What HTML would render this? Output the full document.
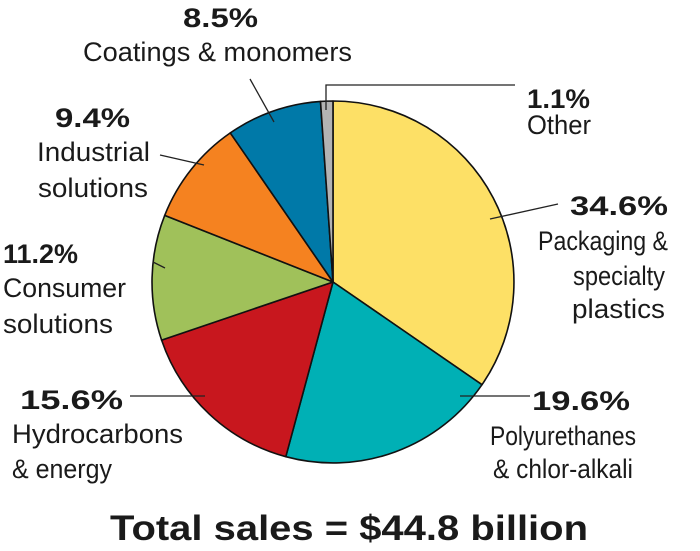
<!DOCTYPE html>
<html><head><style>
html,body{margin:0;padding:0;background:#fff;}
svg{display:block;}
text{font-family:"Liberation Sans",sans-serif;fill:#1a1a1a;}
.b{font-weight:bold;font-size:27px;}
.r{font-size:27px;}
</style></head><body>
<svg width="700" height="551" viewBox="0 0 700 551">
<g stroke="#111" stroke-width="1.6" stroke-linejoin="round">
<path d="M333,282 L333,101 A181,181 0 0 1 482,384.7 Z" fill="#fde066"/>
<path d="M333,282 L482,384.7 A181,181 0 0 1 285.8,456.7 Z" fill="#00b0b5"/>
<path d="M333,282 L285.8,456.7 A181,181 0 0 1 161.6,340.1 Z" fill="#c8171e"/>
<path d="M333,282 L161.6,340.1 A181,181 0 0 1 164.7,215.4 Z" fill="#a0c15a"/>
<path d="M333,282 L164.7,215.4 A181,181 0 0 1 230.3,132.9 Z" fill="#f58220"/>
<path d="M333,282 L230.3,132.9 A181,181 0 0 1 320.5,101.4 Z" fill="#0079a8"/>
<path d="M333,282 L320.5,101.4 A181,181 0 0 1 333,101 Z" fill="#b3b3b3"/>
</g>
<g stroke="#222" stroke-width="1.3" fill="none">
<line x1="250" y1="79" x2="274" y2="122"/>
<polyline points="326,110 326,85 515,85"/>
<line x1="160" y1="155" x2="204" y2="165"/>
<line x1="153" y1="262" x2="165" y2="268"/>
<line x1="130" y1="396" x2="205" y2="396"/>
<line x1="490" y1="219" x2="558" y2="204"/>
<line x1="460" y1="396" x2="530" y2="396"/>
</g>
<text class="b" x="183" y="27" textLength="75" lengthAdjust="spacingAndGlyphs">8.5%</text>
<text class="r" x="83" y="61" textLength="269" lengthAdjust="spacingAndGlyphs">Coatings &amp; monomers</text>
<text class="b" x="55" y="127" textLength="75" lengthAdjust="spacingAndGlyphs">9.4%</text>
<text class="r" x="37" y="161" textLength="113" lengthAdjust="spacingAndGlyphs">Industrial</text>
<text class="r" x="38" y="197" textLength="110" lengthAdjust="spacingAndGlyphs">solutions</text>
<text class="b" x="3" y="263" textLength="75" lengthAdjust="spacingAndGlyphs">11.2%</text>
<text class="r" x="3" y="297" textLength="123" lengthAdjust="spacingAndGlyphs">Consumer</text>
<text class="r" x="3" y="333" textLength="110" lengthAdjust="spacingAndGlyphs">solutions</text>
<text class="b" x="20" y="409" textLength="103" lengthAdjust="spacingAndGlyphs">15.6%</text>
<text class="r" x="12" y="443" textLength="171" lengthAdjust="spacingAndGlyphs">Hydrocarbons</text>
<text class="r" x="12" y="478" textLength="100" lengthAdjust="spacingAndGlyphs">&amp; energy</text>
<text class="b" x="527" y="108" textLength="63" lengthAdjust="spacingAndGlyphs">1.1%</text>
<text class="r" x="527" y="134" textLength="64" lengthAdjust="spacingAndGlyphs">Other</text>
<text class="b" x="570" y="215" textLength="98" lengthAdjust="spacingAndGlyphs">34.6%</text>
<text class="r" x="538" y="250" textLength="130" lengthAdjust="spacingAndGlyphs">Packaging &amp;</text>
<text class="r" x="573" y="285" textLength="92" lengthAdjust="spacingAndGlyphs">specialty</text>
<text class="r" x="572" y="318" textLength="93" lengthAdjust="spacingAndGlyphs">plastics</text>
<text class="b" x="532" y="410" textLength="98" lengthAdjust="spacingAndGlyphs">19.6%</text>
<text class="r" x="490" y="445" textLength="146" lengthAdjust="spacingAndGlyphs">Polyurethanes</text>
<text class="r" x="493" y="478" textLength="140" lengthAdjust="spacingAndGlyphs">&amp; chlor-alkali</text>
<text x="110" y="540" style="font-weight:bold;font-size:35px" textLength="478" lengthAdjust="spacingAndGlyphs">Total sales = $44.8 billion</text>
</svg>
</body></html>
